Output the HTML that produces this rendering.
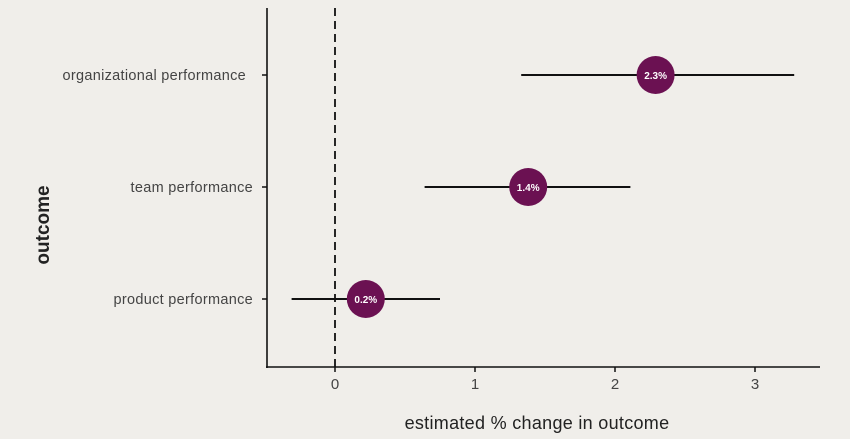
<!DOCTYPE html>
<html><head><meta charset="utf-8"><style>
html,body{margin:0;padding:0;background:#f0eeea;}
svg{display:block;font-family:"Liberation Sans",sans-serif;}
</style></head><body>
<svg id="chart" width="850" height="439">
<rect width="850" height="439" fill="#f0eeea"/>
</svg>
<script>
const categories = ["organizational performance","team performance","product performance"];
const estimates = [2.29, 1.38, 0.22];
const lowerCI = [1.33, 0.64, -0.31];
const upperCI = [3.28, 2.11, 0.75];
const pointLabels = ["2.3%","1.4%","0.2%"];
const xTicks = [0,1,2,3];

const NS="http://www.w3.org/2000/svg";
const svg=document.getElementById('chart');
const x=v=>335+v*140;
const y=i=>75+i*112;
function mk(t,a,txt){const e=document.createElementNS(NS,t);for(const k in a)e.setAttribute(k,a[k]);if(txt!==undefined)e.textContent=txt;svg.appendChild(e);return e;}

let e;
e=mk('line',{x1:267,y1:8,x2:267,y2:368,stroke:'#111','stroke-width':1.6});


e=mk('line',{x1:266,y1:367,x2:820,y2:367,stroke:'#111','stroke-width':1.6});


e=mk('line',{x1:x(0),y1:8,x2:x(0),y2:367,stroke:'#111','stroke-width':1.8,'stroke-dasharray':'8,5'});



xTicks.forEach(t=>{
  e=mk('line',{x1:x(t),y1:367,x2:x(t),y2:372,stroke:'#111','stroke-width':1.5});
  
  
  e=mk('text',{x:x(t),y:389,'text-anchor':'middle','font-size':15,fill:'#444'},String(t));
  
  
});

categories.forEach((c,i)=>{
  e=mk('line',{x1:262,y1:y(i),x2:267,y2:y(i),stroke:'#111','stroke-width':1.5});
  
  
  e=mk('text',{x:i===0?246:253,y:y(i)+5,'text-anchor':'end','font-size':14.5,'letter-spacing':0.3,fill:'#444'},c);
  
  
  e=mk('line',{x1:x(lowerCI[i]),y1:y(i),x2:x(upperCI[i]),y2:y(i),stroke:'#111','stroke-width':2});
  
  
  e=mk('circle',{cx:x(estimates[i]),cy:y(i),r:19,fill:'#6b1152'});
  
  
  e=mk('text',{x:x(estimates[i]),y:y(i)+4,'text-anchor':'middle','font-size':10,'font-weight':'bold',fill:'#fff'},pointLabels[i]);
  
  
});

e=mk('text',{x:537,y:429,'text-anchor':'middle','font-size':18,'letter-spacing':0.3,fill:'#222'},'estimated % change in outcome');


e=mk('text',{x:0,y:0,'text-anchor':'middle','font-size':19,'font-weight':'bold',fill:'#222',transform:'translate(49,225) rotate(-90)'},'outcome');


</script>
</body></html>
